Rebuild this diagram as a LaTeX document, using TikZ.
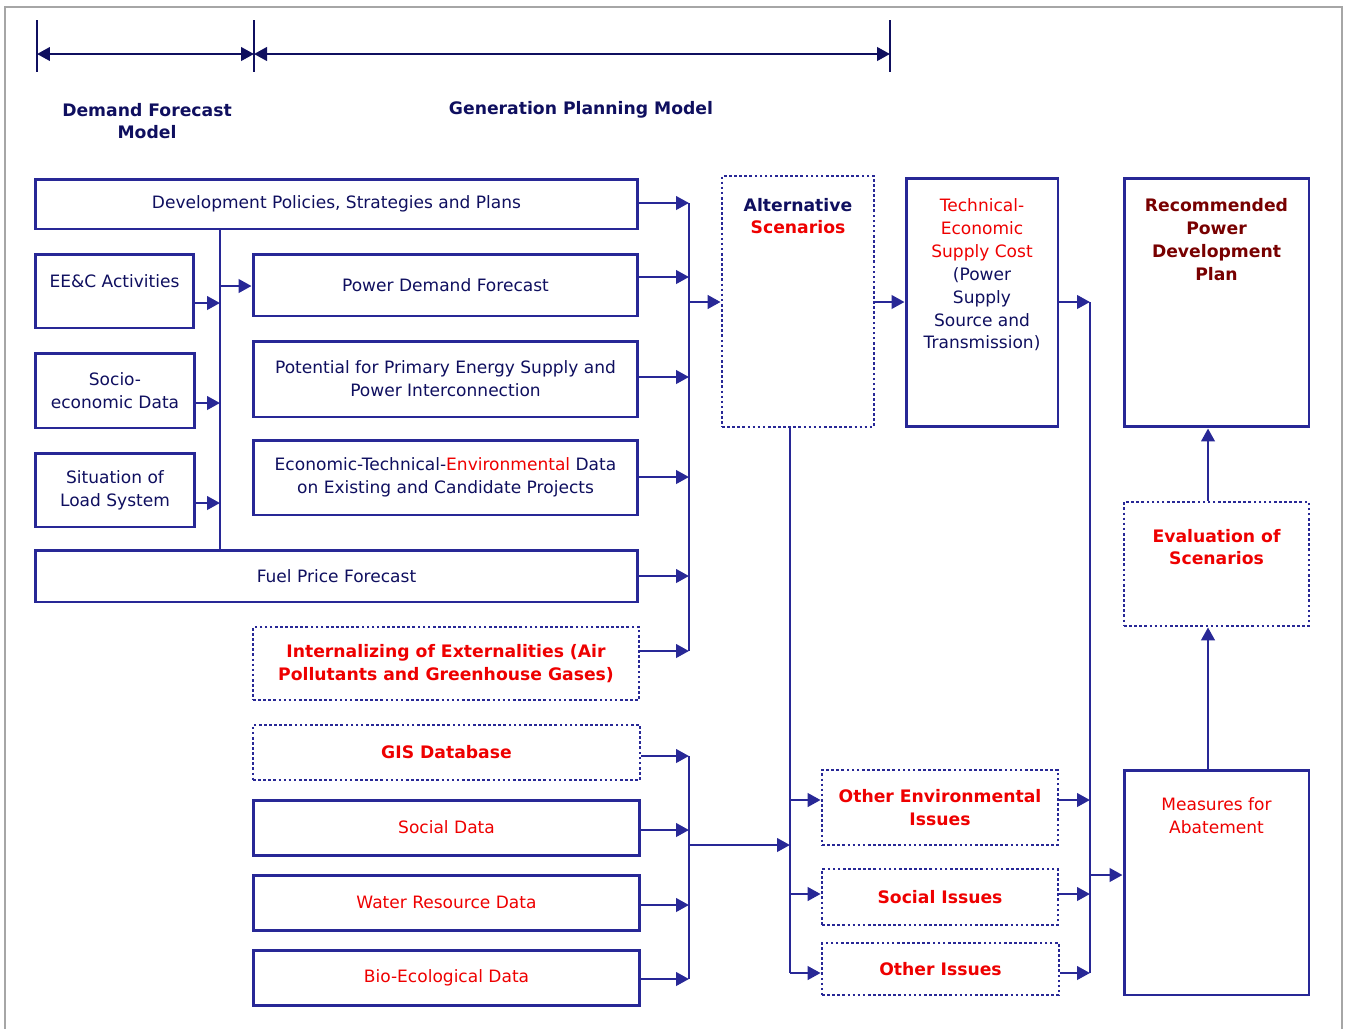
\documentclass[tikz,border=0pt]{standalone}
\usepackage{fontspec}
\setmainfont{DejaVu Sans}
\usetikzlibrary{arrows.meta}
\definecolor{boxblue}{RGB}{40,40,150}
\definecolor{txtnavy}{RGB}{15,15,95}
\definecolor{textred}{RGB}{238,0,0}
\definecolor{darkred}{RGB}{120,0,0}
\tikzset{
  box/.style={draw=boxblue, line width=1.7pt, text=txtnavy, align=center, inner sep=2pt},
  dotbox/.style={box, line width=1.6pt, dash pattern=on 1.5pt off 1.4pt},
  redtxt/.style={text=textred},
  redbold/.style={text=textred, font=\fontsize{9.8}{13}\selectfont\bfseries},
  line/.style={draw=boxblue, line width=1.5pt},
  arr/.style={line, -{Triangle[length=0.26cm,width=0.27cm]}},
  toptext/.style={anchor=north, align=center, inner sep=0pt},
  head/.style={text=txtnavy, align=center, font=\fontsize{9.8}{13}\selectfont\bfseries}
}
\begin{document}
\begin{tikzpicture}[x=0.02cm, y=-0.02cm, font=\fontsize{9.7}{13}\selectfont]
  \useasboundingbox (0,0) rectangle (1348,1028);
  \draw[gray!70, line width=1pt] (5,1040) -- (5,7) -- (1342,7) -- (1342,1040);

  % model spans
  \coordinate (t1) at (37,54);
  \coordinate (t2) at (254,54);
  \coordinate (t3) at (890,54);
  \foreach \t in {t1,t2,t3}
    \draw[txtnavy, line width=1pt] ([yshift=0.68cm]\t) -- ([yshift=-0.36cm]\t);
  \draw[txtnavy, line width=1.5pt, {Triangle[length=0.26cm,width=0.27cm]}-{Triangle[length=0.26cm,width=0.27cm]}] (t1) -- (t2);
  \draw[txtnavy, line width=1.5pt, {Triangle[length=0.26cm,width=0.27cm]}-{Triangle[length=0.26cm,width=0.27cm]}] (t2) -- (t3);
  \node[head] (dfm) at (147,121) {Demand Forecast\\Model};
  \node[head] (gpm) at (581,110) {Generation Planning Model};

  % input boxes
  \node[box, minimum width=12.06cm, minimum height=1cm] (devpol) at (336.5,204) {Development Policies, Strategies and Plans};
  \node[box, minimum width=3.18cm, minimum height=1.48cm,
    label={[toptext, yshift=-0.44cm, text=txtnavy]north:{EE\&C Activities}}] (eec) at (114.5,291) {};
  \node[box, minimum width=3.2cm, minimum height=1.5cm] (socio) at (115,390.5) {Socio-\\economic Data};
  \node[box, minimum width=3.2cm, minimum height=1.48cm] (situation) at (115,490) {Situation of\\Load System};
  \node[box, minimum width=7.7cm, minimum height=1.24cm] (pdf) at (445.5,285) {Power Demand Forecast};
  \node[box, minimum width=7.7cm, minimum height=1.52cm] (potential) at (445.5,379) {Potential for Primary Energy Supply and\\Power Interconnection};
  \node[box, minimum width=7.7cm, minimum height=1.5cm] (econ) at (445.5,477.5) {Economic-Technical-{\color{textred}Environmental} Data\\on Existing and Candidate Projects};
  \node[box, minimum width=12.06cm, minimum height=1.04cm] (fuel) at (336.5,576) {Fuel Price Forecast};
  \node[dotbox, redbold, minimum width=7.72cm, minimum height=1.46cm] (intern) at (446,663.5) {Internalizing of Externalities (Air\\Pollutants and Greenhouse Gases)};
  \node[dotbox, redbold, minimum width=7.74cm, minimum height=1.1cm] (gis) at (446.5,752.5) {GIS Database};
  \node[box, redtxt, minimum width=7.74cm, minimum height=1.1cm] (socdata) at (446.5,827.5) {Social Data};
  \node[box, redtxt, minimum width=7.74cm, minimum height=1.1cm] (water) at (446.5,902.5) {Water Resource Data};
  \node[box, redtxt, minimum width=7.74cm, minimum height=1.1cm] (bio) at (446.5,977.5) {Bio-Ecological Data};

  % scenario and result boxes
  \node[dotbox, minimum width=3.04cm, minimum height=5.02cm,
    label={[toptext, yshift=-0.46cm, font=\fontsize{9.8}{13}\selectfont\bfseries]north:{{\color{txtnavy}Alternative}\\{\color{textred}Scenarios}}}] (alt) at (798,301.5) {};
  \node[box, minimum width=3.04cm, minimum height=4.98cm,
    label={[toptext, yshift=-0.44cm, text=txtnavy]north:{{\color{textred}Technical-}\\{\color{textred}Economic}\\{\color{textred}Supply Cost}\\(Power\\Supply\\Source and\\Transmission)}}] (tech) at (982,302.5) {};
  \node[box, minimum width=3.7cm, minimum height=4.98cm,
    label={[toptext, yshift=-0.44cm, text=darkred, font=\fontsize{9.8}{13}\selectfont\bfseries]north:{Recommended\\Power\\Development\\Plan}}] (rec) at (1216.5,302.5) {};
  \node[dotbox, minimum width=3.7cm, minimum height=2.48cm,
    label={[toptext, yshift=-0.56cm, text=textred, font=\fontsize{9.8}{13}\selectfont\bfseries]north:{Evaluation of\\Scenarios}}] (eval) at (1216.5,564) {};
  \node[dotbox, redbold, minimum width=4.72cm, minimum height=1.5cm] (othenv) at (940,807.5) {Other Environmental\\Issues};
  \node[dotbox, redbold, minimum width=4.72cm, minimum height=1.12cm] (socis) at (940,897) {Social Issues};
  \node[dotbox, redbold, minimum width=4.74cm, minimum height=1.04cm] (othis) at (940.5,969) {Other Issues};
  \node[box, minimum width=3.7cm, minimum height=4.5cm,
    label={[toptext, yshift=-0.58cm, text=textred]north:{Measures for\\Abatement}}] (meas) at (1216.5,882.5) {};

  % demand forecast links
  \coordinate (vtop) at (220,229);
  \coordinate (vbot) at (220,550);
  \draw[line] (vtop) -- (vbot);
  \foreach \n/\y in {eec/303,socio/403,situation/503}{
    \coordinate (\n-v) at (220,\y);
    \draw[arr] (\n.east |- \n-v) -- (\n-v);}
  \coordinate (pdfin) at (220,286);
  \draw[arr] (pdfin) -- (pdf.west |- pdfin);

  % inputs to scenarios
  \coordinate (b1top) at (689,203);
  \coordinate (b1bot) at (689,651);
  \draw[line] (b1top) -- (b1bot);
  \foreach \n/\y in {devpol/203,pdf/277,potential/377,econ/477,fuel/576,intern/651}{
    \coordinate (\n-b) at (689,\y);
    \draw[arr] (\n.east |- \n-b) -- (\n-b);}
  \coordinate (altin) at (689,302);
  \draw[arr] (altin) -- (alt.west |- altin);
  \draw[arr] (alt.east |- altin) -- (tech.west |- altin);

  % environmental data
  \coordinate (b4top) at (689,756);
  \coordinate (b4bot) at (689,979);
  \draw[line] (b4top) -- (b4bot);
  \foreach \n/\y in {gis/756,socdata/830,water/905,bio/979}{
    \coordinate (\n-b) at (689,\y);
    \draw[arr] (\n.east |- \n-b) -- (\n-b);}

  % scenarios to issues
  \coordinate (b3bot) at (790,973);
  \draw[line] (alt.south -| b3bot) -- (b3bot);
  \coordinate (b4out) at (689,845);
  \draw[arr] (b4out) -- (b4out -| b3bot);
  \foreach \n/\y in {othenv/800,socis/894,othis/973}{
    \coordinate (\n-a) at (790,\y);
    \draw[arr] (\n-a) -- (\n.west |- \n-a);}

  % issues and costs to abatement
  \coordinate (b2top) at (1090,302);
  \coordinate (b2bot) at (1090,973);
  \draw[arr] (tech.east |- b2top) -- (b2top);
  \draw[line] (b2top) -- (b2bot);
  \foreach \n/\y in {othenv/800,socis/894,othis/973}{
    \coordinate (\n-c) at (1090,\y);
    \draw[arr] (\n.east |- \n-c) -- (\n-c);}
  \coordinate (measin) at (1090,875);
  \draw[arr] (measin) -- (meas.west |- measin);
  \draw[arr] ([xshift=-0.17cm]meas.north) -- ([xshift=-0.17cm]eval.south);
  \draw[arr] ([xshift=-0.17cm]eval.north) -- ([xshift=-0.17cm]rec.south);
\end{tikzpicture}
\end{document}
